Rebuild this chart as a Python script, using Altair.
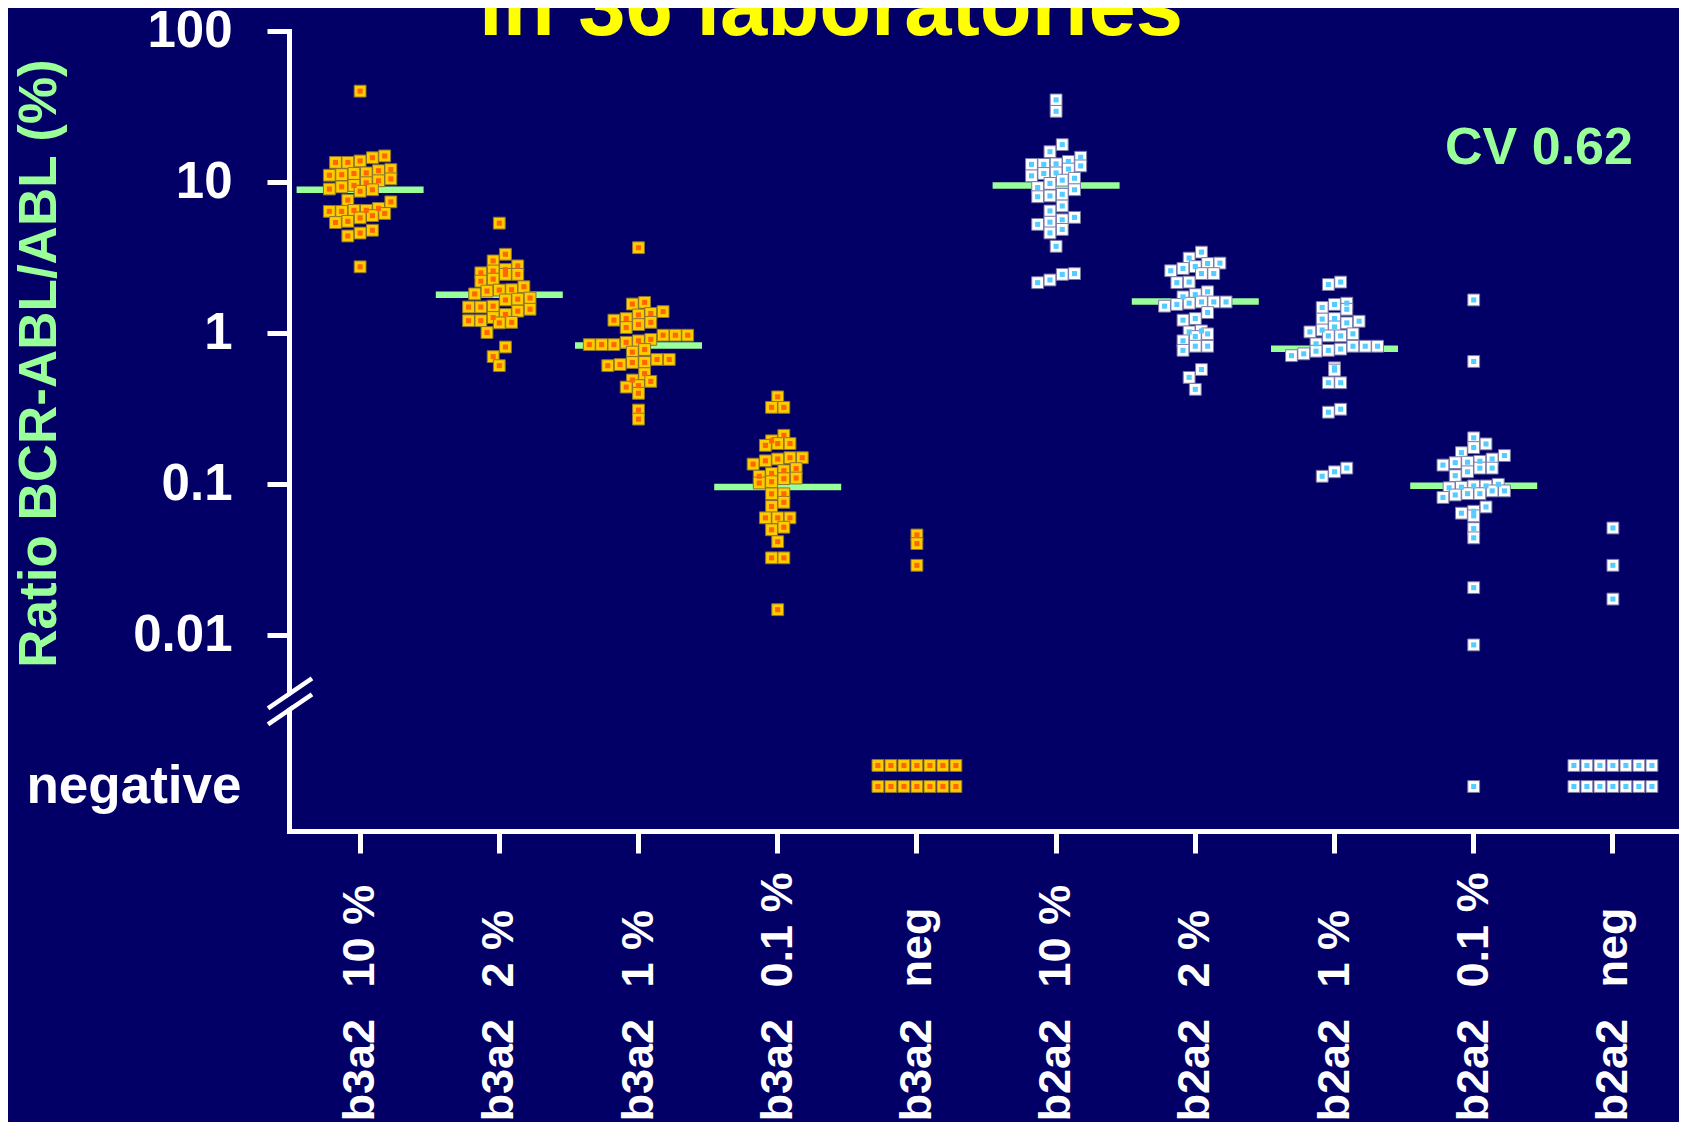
import altair as alt

# ---------------- data ----------------
GROUPS = ["b3a2", "b2a2"]
LEVELS = ["10 %", "2 %", "1 %", "0.1 %", "neg"]

B3A2_10 = [40, 14.9, 14.5, 13.8, 13.5, 13.5, 12.1, 11.9, 11.5, 11.4, 11.2, 11.1,
           10.5, 10.2, 9.9, 9.5, 9.3, 9.0, 8.9, 8.7, 7.6, 7.4, 6.7, 6.5,
           6.5, 6.4, 6.4, 6.2, 6.0, 5.8, 5.5, 5.4, 4.8, 4.6, 4.4, 2.75]
B3A2_2 = [5.35, 3.33, 3.01, 2.79, 2.64, 2.58, 2.51, 2.45, 2.45, 2.28, 2.21, 2.03,
          1.94, 1.93, 1.90, 1.82, 1.71, 1.68, 1.66, 1.51, 1.49, 1.49, 1.44, 1.40,
          1.33, 1.27, 1.21, 1.21, 1.18, 1.17, 1.01, 0.81, 0.70, 0.61]
B3A2_1 = [3.68, 1.60, 1.56, 1.39, 1.35, 1.32, 1.25, 1.22, 1.18, 1.14, 1.09, 0.97,
          0.97, 0.97, 0.91, 0.89, 0.87, 0.84, 0.84, 0.84, 0.78, 0.75, 0.67, 0.67,
          0.64, 0.64, 0.62, 0.61, 0.54, 0.49, 0.48, 0.45, 0.44, 0.40, 0.31, 0.27]
B3A2_01 = [0.379, 0.323, 0.323, 0.211, 0.194, 0.186, 0.186, 0.181, 0.150, 0.150,
           0.147, 0.143, 0.136, 0.127, 0.123, 0.118, 0.113, 0.110, 0.109, 0.104,
           0.102, 0.0865, 0.0865, 0.076, 0.0713, 0.060, 0.060, 0.060, 0.052, 0.050,
           0.0417, 0.0326, 0.0326, 0.0148]
B3A2_NEG = [0.0462, 0.0405, 0.0291]

B2A2_10 = [35.0, 29.4, 17.7, 15.9, 14.6, 13.7, 13.2, 13.1, 13.1, 12.8, 12.2, 11.5,
           11.4, 11.0, 10.6, 10.3, 9.8, 9.2, 8.9, 8.3, 8.1, 8.0, 6.95, 6.44,
           5.84, 5.63, 5.43, 5.25, 4.86, 4.61, 3.76, 2.48, 2.45, 2.25, 2.16]
B2A2_2 = [3.44, 3.14, 2.91, 2.89, 2.76, 2.68, 2.59, 2.48, 2.48, 2.18, 2.16, 1.88,
          1.80, 1.74, 1.61, 1.61, 1.61, 1.58, 1.55, 1.51, 1.37, 1.25, 1.22, 1.035,
          1.02, 0.99, 0.95, 0.89, 0.82, 0.82, 0.77, 0.575, 0.51, 0.425]
B2A2_1 = [2.18, 2.10, 1.58, 1.55, 1.48, 1.44, 1.25, 1.24, 1.20, 1.17, 1.10, 1.05,
          1.02, 0.99, 0.96, 0.96, 0.85, 0.82, 0.82, 0.82, 0.785, 0.77, 0.76, 0.73,
          0.71, 0.59, 0.57, 0.47, 0.47, 0.314, 0.30, 0.128, 0.121, 0.113]
B2A2_01 = [1.66, 0.65, 0.203, 0.185, 0.175, 0.162, 0.155, 0.147, 0.142, 0.140,
           0.139, 0.134, 0.128, 0.128, 0.121, 0.114, 0.100, 0.0975, 0.0975, 0.0957,
           0.0948, 0.0904, 0.0904, 0.0867, 0.0867, 0.085, 0.0818, 0.0708, 0.0663,
           0.0644, 0.0618, 0.0509, 0.0442, 0.0207, 0.00865]
B2A2_NEG = [0.0514, 0.0291, 0.0174]

# number of laboratories reporting "negative"
NEG_B3A2 = [0, 0, 0, 0, 14]
NEG_B2A2 = [0, 0, 0, 1, 14]

# medians (green bars)
MED_B3A2 = [8.9, 1.8, 0.83, 0.096]
MED_B2A2 = [9.5, 1.62, 0.79, 0.098]

TITLE = "in 36 laboratories"
CV_TEXT = "CV 0.62"
Y_TITLE = "Ratio BCR-ABL/ABL (%)"
NEG_LABEL = "negative"

# ---------------- styling / layout ----------------
BG = "#020066"
GREEN = "#99FF99"
YELLOW = "#FFFF00"
FONT = "Liberation Sans"
W, H = 1390, 800
X0 = 1.5
BW = 139.2
DECADE = 151.1
YMIN = 10 ** (2 - H / DECADE)
NEG_LEVEL = 0.001
ROW_STEP = 21 / DECADE
PER_ROW = 7
STEP = 12.3
NEG_STEP = 13.0
BIN = 12 / DECADE
SEP = "\u2002\u2009"

SERIES = {"b3a2": [B3A2_10, B3A2_2, B3A2_1, B3A2_01, B3A2_NEG],
          "b2a2": [B2A2_10, B2A2_2, B2A2_1, B2A2_01, B2A2_NEG]}
NEGS = {"b3a2": NEG_B3A2, "b2a2": NEG_B2A2}
MEDS = {"b3a2": MED_B3A2, "b2a2": MED_B2A2}

CATS = [g + SEP + l for g in GROUPS for l in LEVELS]

rows, med_rows = [], []
for g in GROUPS:
    for i, l in enumerate(LEVELS):
        cat = g + SEP + l
        for v in SERIES[g][i]:
            rows.append({"cat": cat, "group": g, "value": v, "neg": False})
        for _ in range(NEGS[g][i]):
            rows.append({"cat": cat, "group": g, "value": None, "neg": True})
        if i < len(MEDS[g]):
            med_rows.append({"cat": cat, "median": MEDS[g][i]})

x_axis = alt.Axis(domain=True, domainColor="white", domainWidth=5, domainCap="square",
                  ticks=True, tickColor="white", tickWidth=5, tickSize=22,
                  labelAngle=270, labelAlign="left", labelBaseline="middle",
                  labelPadding=268, labelFont=FONT, labelFontSize=45,
                  labelFontWeight="bold", labelColor="white", labelLimit=1000,
                  grid=False, title=None)
y_axis = alt.Axis(values=[100, 10, 1, 0.1, 0.01], format="~g",
                  domain=True, domainColor="white", domainWidth=5, domainCap="square",
                  ticks=True, tickColor="white", tickWidth=5, tickSize=22,
                  labelFont=FONT, labelFontSize=51, labelFontWeight="bold",
                  labelColor="white", labelPadding=35, labelFlush=False,
                  labelOverlap=False, grid=False,
                  titleColor=GREEN, titleFont=FONT, titleFontSize=53,
                  titleFontWeight="bold", titleAngle=270, titleX=-234, titleY=332,
                  titleAlign="center", titleBaseline="alphabetic", titleLimit=2000)

x_enc = alt.X("cat:N", sort=CATS,
              scale=alt.Scale(type="band", domain=CATS, paddingInner=0, paddingOuter=0,
                              range=[X0, X0 + 10 * BW]),
              axis=x_axis)
y_scale = alt.Scale(type="log", domain=[YMIN, 100], nice=False)

base = alt.Chart(alt.Data(values=rows)).transform_calculate(
    lv="datum.neg ? 0 : log(datum.value) / LN10"
).transform_calculate(
    b=f"datum.neg ? -1000 : floor(datum.lv / {BIN})"
).transform_window(
    rank="row_number()", groupby=["cat", "b"],
    sort=[alt.SortField(field="value", order="ascending")]
).transform_joinaggregate(
    n="count()", groupby=["cat", "b"]
).transform_calculate(
    ncol=f"datum.neg ? min(datum.n, {PER_ROW}) : datum.n"
).transform_calculate(
    row=f"datum.neg ? floor((datum.rank - 1) / {PER_ROW}) : 0"
).transform_calculate(
    col=f"datum.neg ? (datum.rank - 1) % {PER_ROW} : datum.rank - 1"
).transform_calculate(
    off=f"(datum.col - (datum.ncol - 1) / 2) * (datum.neg ? {NEG_STEP} : {STEP})"
).transform_calculate(
    ypos=f"datum.neg ? {NEG_LEVEL} * pow(10, datum.row * {ROW_STEP}) : datum.value"
)

enc = dict(
    x=x_enc,
    xOffset=alt.XOffset("off:Q", scale=alt.Scale(domain=[-BW / 2, BW / 2], range=[0, BW])),
    y=alt.Y("ypos:Q", scale=y_scale, axis=y_axis, title=Y_TITLE),
)

outer = base.mark_point(shape="square", filled=True, size=140, strokeWidth=1,
                        opacity=1).encode(
    fill=alt.Fill("group:N", scale=alt.Scale(domain=GROUPS, range=["#FFCC00", "#FFFFFF"]),
                  legend=None),
    stroke=alt.Stroke("group:N", scale=alt.Scale(domain=GROUPS, range=["#8c7430", "#7a7aa8"]),
                      legend=None),
    **enc,
)
inner = base.mark_point(shape="square", filled=True, size=26, opacity=1).encode(
    color=alt.Color("group:N", scale=alt.Scale(domain=GROUPS, range=["#FF6600", "#55CCFF"]),
                    legend=None),
    **enc,
)

medians = alt.Chart(alt.Data(values=med_rows)).mark_tick(
    color=GREEN, thickness=6.5, size=127, opacity=1
).encode(
    x=x_enc,
    y=alt.Y("median:Q", scale=y_scale, axis=y_axis, title=Y_TITLE),
)

one = alt.Data(values=[{"k": 1}])

neg_text = alt.Chart(one).mark_text(
    align="right", baseline="middle", font=FONT, fontSize=53, fontWeight="bold",
    color="white"
).encode(x=alt.value(-47.5), y=alt.datum(NEG_LEVEL), text=alt.value(NEG_LABEL))

title_text = alt.Chart(one).mark_text(
    align="center", baseline="alphabetic", font=FONT, fontSize=85, fontWeight="bold",
    color=YELLOW
).encode(x=alt.value(542), y=alt.value(4), text=alt.value(TITLE))

cv_text = alt.Chart(one).mark_text(
    align="center", baseline="alphabetic", font=FONT, fontSize=52, fontWeight="bold",
    color=GREEN
).encode(x=alt.value(1250), y=alt.value(132.5), text=alt.value(CV_TEXT))

# axis break marks
brk_cover = alt.Chart(one).mark_rule(color=BG, strokeWidth=9, strokeCap="butt").encode(
    x=alt.value(-21), x2=alt.value(23), y=alt.value(685.3), y2=alt.value(655.3))
brk_a = alt.Chart(one).mark_rule(color="white", strokeWidth=4.5, strokeCap="butt").encode(
    x=alt.value(-21), x2=alt.value(23), y=alt.value(677.3), y2=alt.value(647.3))
brk_b = alt.Chart(one).mark_rule(color="white", strokeWidth=4.5, strokeCap="butt").encode(
    x=alt.value(-21), x2=alt.value(23), y=alt.value(693.3), y2=alt.value(663.3))

chart = alt.layer(
    medians, outer, inner, neg_text, title_text, cv_text, brk_cover, brk_a, brk_b
).properties(
    width=W, height=H,
    autosize=alt.AutoSizeParams(type="none"),
    padding={"left": 281, "top": 23, "right": 0, "bottom": 291},
).configure(
    background=BG
).configure_view(
    strokeWidth=0
)

chart.save("out.html", embed_options={"renderer": "svg", "actions": False})
